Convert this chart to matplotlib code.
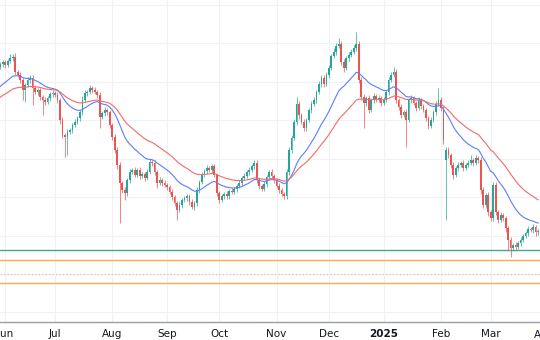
import matplotlib
matplotlib.use("Agg")
from matplotlib import pyplot as plt
from matplotlib import transforms
import numpy as np
import pandas as pd

# daily bars, 2024-05-30 .. 2025-04 (business days)
start_date = "2024-05-30"

# closes before the visible window (only feed the moving averages)
pre_close = [149.5, 150.2, 149.8, 150.6, 151.3, 150.9, 151.7, 152.2, 151.5, 150.8,
             151.6, 152.4, 153.0, 152.5, 151.9, 152.7, 153.4, 152.8, 153.6, 154.1,
             153.5, 152.9, 153.7, 154.4, 153.8, 153.2, 154.0, 154.6, 154.1, 153.5,
             154.3, 155.6, 157.2, 158.9, 160.1, 161.6, 162.4, 163.3, 164.1, 163.6]

opens = [163.9, 164.5, 165.0, 164.2, 165.3, 166.0, 166.5, 162.5, 161.7, 160.4,
         157.8, 159.1, 160.4, 161.0, 158.4, 157.3, 157.8, 155.9, 155.2,
         154.7, 155.7, 156.7, 157.0, 156.5, 155.2, 150.0, 146.1, 145.6, 146.9,
         147.4, 148.7, 149.5, 150.5, 152.0, 155.2, 157.0, 157.3, 158.3, 157.8,
         157.3, 156.5, 150.8, 151.8, 152.6, 152.0, 148.7, 145.6, 142.2, 138.3,
         133.6, 131.8, 131.0, 134.4, 136.5, 137.0, 135.7, 137.0, 135.5,
         136.0, 134.9, 136.5, 139.1, 138.8, 136.5, 133.6, 134.4, 133.6, 133.1,
         132.6, 131.3, 130.0, 128.4, 126.6, 127.9, 129.2, 129.7, 130.2, 128.7,
         127.4, 128.4, 131.8, 133.9, 135.7, 136.8, 137.5, 137.0, 138.0, 135.7,
         131.0, 129.2, 130.2, 130.8, 130.2, 131.6, 131.3, 132.1, 132.9,
         133.6, 134.9, 135.5, 136.5, 137.0, 138.0, 138.8, 134.4, 132.9, 132.1,
         133.4, 135.2, 136.5, 135.5, 134.4, 132.9, 131.8, 130.8, 130.2, 136.5,
         142.2, 145.3, 149.5, 154.2, 151.3, 149.5, 147.9, 150.0, 152.6,
         154.2, 155.2, 157.3, 159.4, 161.0, 159.4, 161.7, 163.5, 166.6, 167.7,
         169.2, 169.7, 165.1, 163.5, 166.1, 166.9, 167.7, 168.7, 169.7, 160.4,
         156.0, 154.4, 155.7, 152.6, 155.2, 156.2, 155.2, 155.7, 154.4,
         155.2, 157.3, 160.4, 161.7, 162.5, 155.2, 153.4, 151.3, 152.0, 150.0,
         155.2, 155.7, 154.4, 153.1, 155.2, 153.6, 152.6, 150.5, 148.5, 150.0,
         152.0, 154.2, 155.2, 153.1, 139.5, 142.2, 140.9, 138.3, 135.7, 137.5,
         138.3, 138.8, 137.5, 138.3, 138.8, 139.6, 138.8, 140.1, 139.6,
         131.8, 127.9, 130.5, 126.1, 124.5, 133.1, 126.1, 124.0, 125.3, 124.5,
         121.9, 118.8, 116.7, 117.5, 117.0, 118.1, 118.8, 119.9, 120.6, 121.7,
         121.4, 122.2, 120.8]

closes = [164.5, 165.0, 164.2, 165.3, 166.0, 166.5, 162.5, 161.7, 160.4, 157.8,
          159.1, 160.4, 161.0, 158.4, 157.3, 157.8, 155.9, 155.2, 154.7,
          155.7, 156.7, 157.0, 156.5, 155.2, 150.0, 146.1, 145.6, 146.9, 147.4,
          148.7, 149.5, 150.5, 152.0, 155.2, 157.0, 157.3, 158.3, 157.8, 157.3,
          156.5, 150.8, 151.8, 152.6, 152.0, 148.7, 145.6, 142.2, 138.3, 133.6,
          131.8, 131.0, 134.4, 136.5, 137.0, 135.7, 137.0, 135.5, 136.0,
          134.9, 136.5, 139.1, 138.8, 136.5, 133.6, 134.4, 133.6, 133.1, 132.6,
          131.3, 130.0, 128.4, 126.6, 127.9, 129.2, 129.7, 130.2, 128.7, 127.4,
          128.4, 131.8, 133.9, 135.7, 136.8, 137.5, 137.0, 138.0, 135.7, 131.0,
          129.2, 130.2, 130.8, 130.2, 131.6, 131.3, 132.1, 132.9, 133.6,
          134.9, 135.5, 136.5, 137.0, 138.0, 138.8, 134.4, 132.9, 132.1, 133.4,
          135.2, 136.5, 135.5, 134.4, 132.9, 131.8, 130.8, 130.2, 136.5, 142.2,
          145.3, 149.5, 154.2, 151.3, 149.5, 147.9, 150.0, 152.6, 154.2,
          155.2, 157.3, 159.4, 161.0, 159.4, 161.7, 163.5, 166.6, 167.7, 169.2,
          169.7, 165.1, 163.5, 166.1, 166.9, 167.7, 168.7, 169.7, 160.4, 156.0,
          154.4, 155.7, 152.6, 155.2, 156.2, 155.2, 155.7, 154.4, 155.2,
          157.3, 160.4, 161.7, 162.5, 155.2, 153.4, 151.3, 152.0, 150.0, 155.2,
          155.7, 154.4, 153.1, 155.2, 153.6, 152.6, 150.5, 148.5, 150.0, 152.0,
          154.2, 155.2, 153.1, 144.8, 142.2, 140.9, 138.3, 135.7, 137.5, 138.3,
          138.8, 137.5, 138.3, 138.8, 139.6, 138.8, 140.1, 139.6, 131.8,
          127.9, 130.5, 126.1, 124.5, 133.1, 126.1, 124.0, 125.3, 124.5, 121.9,
          118.8, 116.7, 117.5, 117.0, 118.1, 118.8, 119.9, 120.6, 121.7, 121.4,
          122.2, 120.8, 121.0]

# wick lengths above / below the body
upper_wick = [0.6, 0.5, 0.7, 0.6, 1.2, 0.6, 0.8, 0.6, 0.7, 0.6,
              0.6, 0.7, 0.6, 0.8, 0.6, 0.5, 0.6, 0.6, 0.7,
              0.6, 0.6, 0.7, 0.6, 0.8, 0.6, 0.7, 0.6, 0.8, 0.6,
              0.6, 0.7, 0.6, 0.6, 1.0, 0.7, 0.6, 0.8, 0.6, 0.7,
              0.6, 0.7, 0.6, 0.8, 0.6, 0.7, 0.6, 0.7, 0.8, 0.7,
              0.6, 0.7, 0.6, 0.8, 0.6, 0.7, 0.6, 0.7, 0.6,
              0.6, 0.7, 0.9, 0.6, 0.7, 0.6, 0.8, 0.6, 0.7, 0.6,
              0.6, 0.7, 0.6, 0.6, 0.8, 0.6, 0.7, 0.6, 0.6, 0.7,
              0.6, 0.7, 0.6, 0.8, 0.6, 0.7, 0.6, 0.6, 0.7, 0.6,
              0.6, 0.7, 0.6, 0.8, 0.6, 0.7, 0.6, 0.6, 0.7,
              0.6, 0.7, 0.6, 0.8, 0.6, 0.8, 0.7, 0.6, 0.6, 0.7,
              0.6, 0.6, 0.7, 0.6, 0.6, 0.7, 0.6, 0.6, 0.7, 0.8,
              0.7, 0.8, 1.8, 0.7, 0.6, 0.8, 0.6, 0.6, 0.8,
              0.7, 0.6, 0.8, 0.7, 0.6, 0.8, 0.7, 0.6, 0.9, 0.7,
              1.6, 0.8, 0.7, 0.6, 0.8, 0.7, 0.9, 3.1, 0.8, 0.7,
              0.8, 0.6, 0.7, 0.6, 0.8, 0.6, 0.7, 0.6, 0.7,
              0.6, 0.8, 0.7, 1.4, 0.8, 0.6, 0.7, 0.6, 0.8, 0.6,
              0.7, 0.6, 0.6, 0.8, 0.6, 0.7, 0.6, 0.6, 0.7, 0.6,
              0.8, 3.1, 0.7, 0.6, 0.8, 0.7, 0.6, 0.8, 0.6, 0.7,
              0.6, 0.7, 0.6, 0.8, 1.3, 0.6, 0.7, 0.6, 0.8,
              0.7, 0.6, 0.8, 0.6, 0.9, 0.7, 0.6, 0.8, 0.6, 0.7,
              0.6, 0.7, 0.6, 0.8, 0.6, 0.7, 0.6, 0.6, 0.7, 0.6,
              0.7, 0.6, 0.6]

lower_wick = [0.6, 0.7, 0.6, 0.5, 0.6, 0.7, 0.8, 0.6, 0.7, 2.6,
              3.1, 0.6, 0.7, 4.4, 0.6, 0.7, 0.8, 3.9, 0.7,
              0.6, 0.7, 0.6, 0.6, 0.8, 0.9, 0.7, 5.2, 4.7, 0.6,
              0.7, 0.6, 0.6, 0.7, 0.6, 0.6, 0.7, 0.6, 0.8, 0.6,
              0.7, 2.9, 0.6, 0.7, 0.6, 0.8, 0.7, 0.8, 0.9, 10.4,
              0.8, 1.8, 0.6, 0.7, 0.6, 0.6, 0.6, 0.8, 0.6,
              0.7, 0.6, 0.6, 0.7, 0.8, 1.3, 0.6, 0.7, 0.6, 0.8,
              0.6, 0.7, 0.8, 2.6, 0.6, 0.7, 0.6, 0.6, 0.7, 0.6,
              0.8, 0.6, 0.7, 0.6, 0.6, 0.7, 0.6, 0.8, 0.6, 0.7,
              0.8, 0.6, 0.7, 0.6, 0.7, 0.6, 0.6, 0.8, 0.6,
              0.7, 0.6, 0.6, 0.7, 0.6, 0.6, 0.8, 0.7, 0.6, 0.6,
              0.7, 0.6, 0.6, 0.7, 0.6, 0.8, 0.6, 0.7, 0.6, 0.7,
              0.8, 0.6, 0.7, 0.9, 0.6, 0.8, 0.7, 0.6, 0.7,
              0.6, 0.7, 0.6, 0.8, 0.9, 0.6, 0.7, 0.6, 0.6, 0.7,
              0.6, 0.8, 1.0, 0.6, 0.7, 0.6, 0.6, 0.7, 0.8, 0.9,
              6.5, 0.7, 0.8, 0.6, 0.7, 0.6, 0.6, 0.8, 0.6,
              0.6, 0.7, 0.6, 0.6, 0.8, 0.9, 0.7, 0.6, 7.0, 0.6,
              0.7, 0.6, 0.8, 0.6, 0.7, 0.6, 0.8, 0.7, 0.6, 0.6,
              0.7, 0.6, 0.8, 0.9, 15.5, 0.8, 0.7, 0.9, 0.6, 0.7,
              0.6, 0.8, 0.6, 0.6, 0.6, 0.7, 0.6, 0.8, 0.9,
              0.8, 0.7, 0.9, 0.8, 0.6, 0.7, 0.8, 0.6, 0.7, 0.9,
              2.6, 2.3, 0.7, 0.8, 0.6, 0.7, 0.6, 0.6, 0.7, 0.6,
              0.7, 0.8, 0.6]

# horizontal levels
support_level = 116.2
zone_levels = [113.6, 107.7]
mid_level = 110.0

up_color = "#26a69a"
down_color = "#ef5350"

df = pd.DataFrame({"open": opens, "close": closes,
                   "uw": upper_wick, "lw": lower_wick})
df.index = pd.bdate_range(start_date, periods=len(df))
df["high"] = df[["open", "close"]].max(axis=1) + df["uw"]
df["low"] = df[["open", "close"]].min(axis=1) - df["lw"]
x = np.arange(len(df))

# moving averages over pre-history + visible closes
all_close = pd.Series(pre_close + closes)
ma_fast = all_close.ewm(span=20, adjust=False).mean()
ma_slow = all_close.ewm(span=40, adjust=False).mean()
x_all = np.arange(-len(pre_close), len(closes))

fig = plt.figure(figsize=(5.4, 3.4), dpi=100)
ax = fig.add_axes([0, 18 / 340, 1, 322 / 340])

# grid
month_start = [i for i in range(1, len(df)) if df.index[i].month != df.index[i - 1].month]
for i in month_start:
    ax.axvline(i, color="#eef1f6", lw=0.8, zorder=0)
for p in range(100, 190, 10):
    ax.axhline(p, color="#eef1f6", lw=0.8, zorder=0)

# levels
ax.axhline(support_level, color="#45a88a", lw=1.0, zorder=1)
for lv in zone_levels:
    ax.axhline(lv, color="#ffa94d", lw=1.0, zorder=1)
ax.axhline(mid_level, color="#f4b9c4", lw=1.0, ls=(0, (1, 1.5)), zorder=1)

# candles
up = df["close"] >= df["open"]
colors = np.where(up, up_color, down_color)
ax.vlines(x, df["low"], df["high"], colors=colors, lw=0.5, zorder=2)
body_bottom = df[["open", "close"]].min(axis=1)
body_height = (df["close"] - df["open"]).abs().clip(lower=0.25)
ax.bar(x, body_height, bottom=body_bottom, width=0.7, color=colors,
       linewidth=0, zorder=3)

# moving averages
ax.plot(x_all, ma_fast, color="#5b7ffb", lw=0.8, zorder=4)
ax.plot(x_all, ma_slow, color="#f26b6b", lw=0.8, zorder=4)

ax.set_xlim(-0.09, 216.8)
ax.set_ylim(97.53, 181.2)

# month labels (first bar of each month; the next month sits just past the edge)
labels = []
for i in month_start:
    d = df.index[i]
    labels.append(str(d.year) if d.month == 1 else d.strftime("%b"))
ax.set_xticks(month_start)
ax.set_xticklabels(labels)
for t, lab in zip(ax.get_xticklabels(), labels):
    if lab.isdigit():
        t.set_fontweight("bold")
ax.tick_params(axis="x", length=0, labelsize=7.5, labelcolor="#131722", pad=5)
next_month = df.index[-1] + pd.offsets.BMonthBegin()
next_pos = len(df) - 1 + len(pd.bdate_range(df.index[-1], next_month)) - 1
trans = transforms.blended_transform_factory(ax.transData, ax.transAxes)
ax.text(next_pos, -0.04, next_month.strftime("%b"), transform=trans,
        ha="center", va="center", fontsize=7.5, color="#131722", clip_on=False)
ax.set_yticks([])
for s in ["top", "left", "right"]:
    ax.spines[s].set_visible(False)
ax.spines["bottom"].set_color("#9a9da6")
ax.spines["bottom"].set_linewidth(1.0)

fig.savefig("out.png", dpi=100, facecolor="white")
